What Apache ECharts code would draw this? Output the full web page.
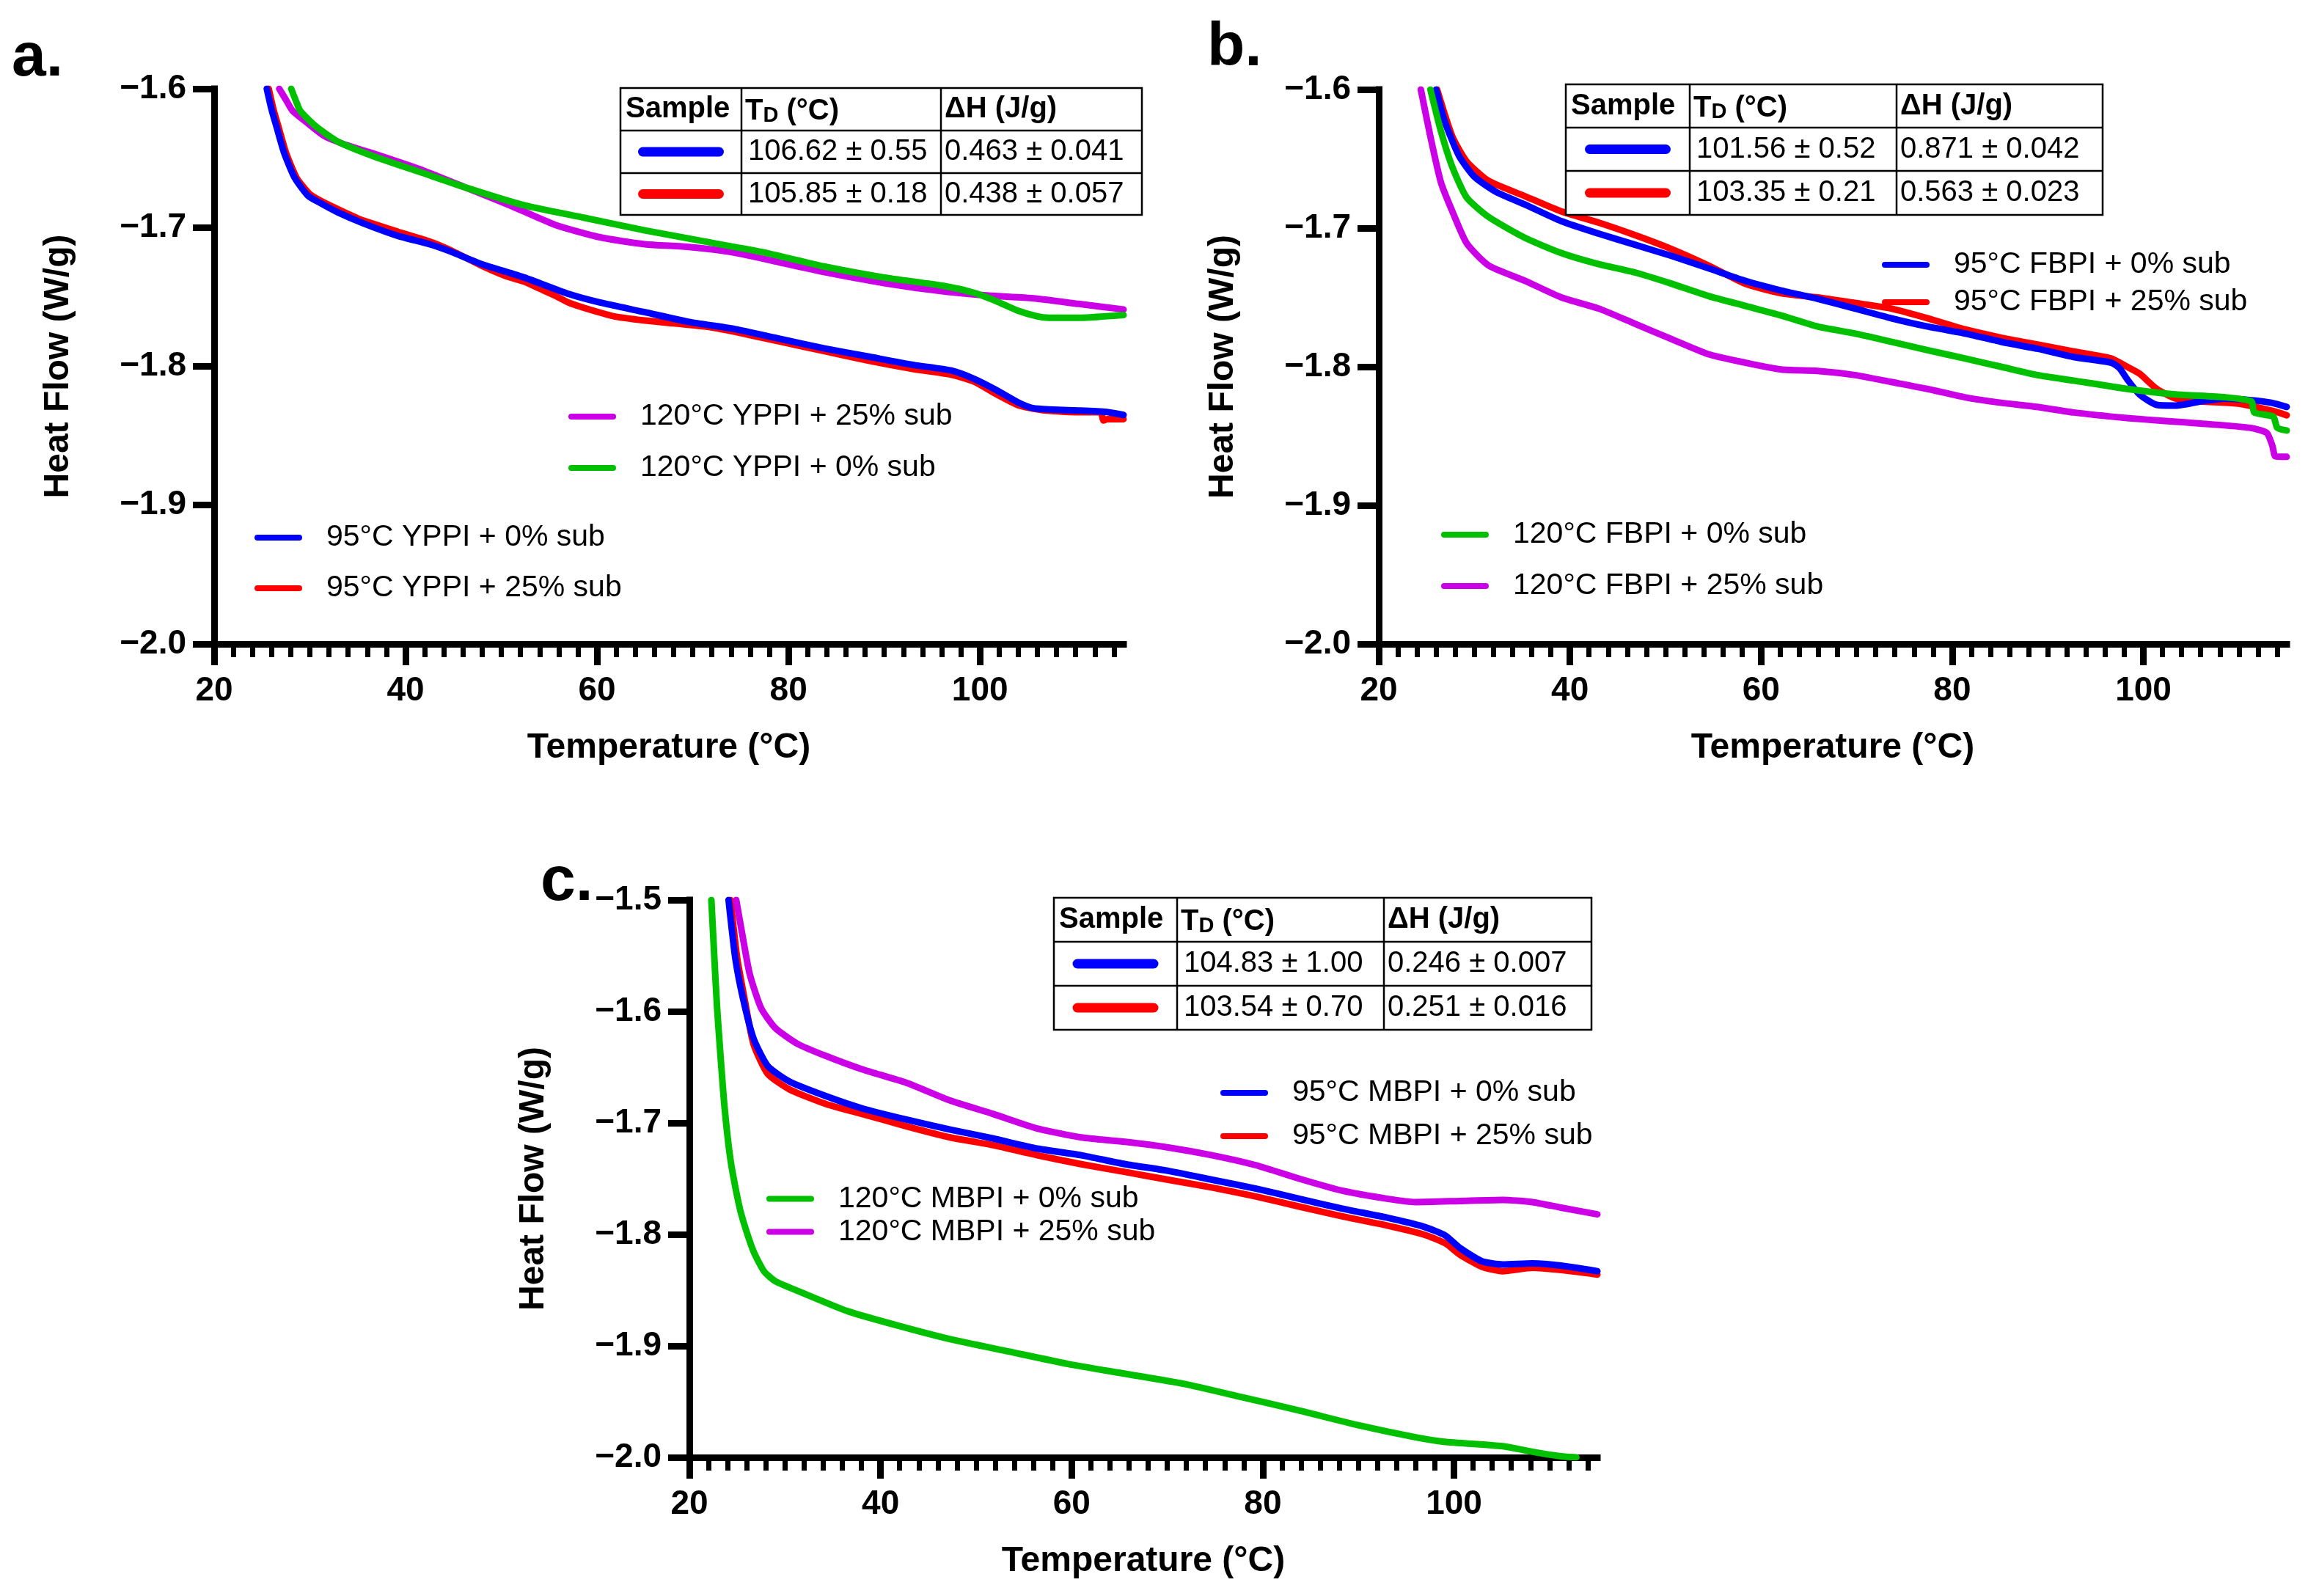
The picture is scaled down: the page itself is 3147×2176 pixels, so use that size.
<!DOCTYPE html>
<html>
<head>
<meta charset="utf-8">
<script src="https://cdn.jsdelivr.net/npm/echarts@6/dist/echarts.min.js"></script>
<style>
html,body{margin:0;padding:0;background:#fff;}
#chart{width:3147px;height:2176px;}
</style>
</head>
<body>
<div id="chart"></div>
<script>
// ---------------- DATA ----------------
const xTicks = [20, 40, 60, 80, 100];
const xMinorTicks = [22,24,26,28,30,32,34,36,38,42,44,46,48,50,52,54,56,58,62,64,66,68,70,72,74,76,78,82,84,86,88,90,92,94,96,98,102,104,106,108,110,112,114];

// Panel a (YPPI)
const a95_0 = [[25.5,-1.600],[26.0,-1.615],[26.5,-1.627],[27.3,-1.646],[28.4,-1.664],[29.8,-1.677],[31.0,-1.682],[32.9,-1.689],[35.6,-1.697],[39.2,-1.706],[42.5,-1.712],[44.6,-1.717],[47.8,-1.726],[52.4,-1.736],[57.1,-1.748],[60.3,-1.754],[65,-1.761],[69.6,-1.768],[74.3,-1.773],[79,-1.780],[83.7,-1.787],[88.4,-1.793],[93.1,-1.799],[97,-1.803],[99.4,-1.809],[101.7,-1.817],[104,-1.826],[105.5,-1.830],[107.2,-1.831],[111,-1.832],[113.4,-1.833],[115,-1.835]];
const a95_25 = [[25.7,-1.600],[26.2,-1.615],[26.7,-1.627],[27.5,-1.646],[28.6,-1.664],[30.0,-1.676],[31.2,-1.681],[33,-1.687],[35.6,-1.695],[39.2,-1.703],[42.5,-1.710],[44.6,-1.716],[47.8,-1.727],[50.5,-1.735],[52.4,-1.739],[54,-1.744],[55.6,-1.749],[57,-1.754],[58.7,-1.758],[61.8,-1.764],[65,-1.767],[68,-1.769],[72,-1.772],[74.3,-1.775],[79,-1.782],[83.7,-1.789],[88.4,-1.796],[93.1,-1.802],[97,-1.806],[99.4,-1.811],[101.7,-1.820],[104,-1.828],[106,-1.831],[107.2,-1.832],[110,-1.833],[112.6,-1.833],[112.9,-1.839],[113.3,-1.838],[115,-1.838]];
const a120_0 = [[28.05,-1.600],[28.5,-1.608],[29,-1.616],[30.6,-1.627],[32.9,-1.638],[36.8,-1.649],[41.5,-1.660],[46.2,-1.671],[52.4,-1.684],[58.7,-1.693],[65,-1.702],[71.2,-1.710],[77.5,-1.718],[83.7,-1.728],[90,-1.736],[96.2,-1.742],[99.4,-1.747],[101.7,-1.753],[104,-1.760],[106,-1.764],[107.2,-1.765],[110.3,-1.765],[113,-1.764],[115,-1.763]];
const a120_25 = [[26.8,-1.600],[27.5,-1.608],[28.2,-1.616],[29.8,-1.625],[31.5,-1.634],[34,-1.641],[36.8,-1.647],[41.5,-1.658],[46.2,-1.671],[50.9,-1.684],[55.6,-1.698],[60.3,-1.707],[65,-1.712],[69.6,-1.714],[74.3,-1.718],[79,-1.725],[83.7,-1.732],[90,-1.740],[96.2,-1.746],[100.9,-1.749],[105.6,-1.751],[110.3,-1.755],[115,-1.759]];

// Panel b (FBPI)
const b95_0 = [[26.0,-1.600],[26.9,-1.623],[28.4,-1.648],[30,-1.663],[32.3,-1.674],[35.3,-1.683],[39.1,-1.695],[43,-1.704],[46.8,-1.712],[50.6,-1.720],[54.5,-1.729],[58.3,-1.738],[62.1,-1.745],[65.9,-1.751],[69.8,-1.758],[73.6,-1.765],[77.4,-1.771],[81.3,-1.776],[85.1,-1.782],[88.9,-1.787],[92.7,-1.793],[96.6,-1.797],[97.5,-1.801],[98.3,-1.809],[99.6,-1.820],[101.4,-1.8275],[103.4,-1.828],[106,-1.825],[108.5,-1.823],[111.1,-1.824],[113.4,-1.826],[115,-1.829]];
const b95_25 = [[26.1,-1.600],[27.7,-1.634],[29.2,-1.652],[31.5,-1.666],[35.3,-1.677],[39.1,-1.688],[43,-1.696],[46.8,-1.705],[50.6,-1.715],[54.5,-1.727],[58.3,-1.740],[62.1,-1.747],[65.9,-1.750],[69.8,-1.754],[73.6,-1.758],[77.4,-1.765],[81.3,-1.773],[85.1,-1.779],[88.9,-1.784],[92.7,-1.789],[96.6,-1.794],[98.3,-1.800],[99.6,-1.805],[101.4,-1.816],[103.4,-1.823],[106,-1.825],[109.8,-1.8265],[113.6,-1.832],[115,-1.835]];
const b120_0 = [[25.4,-1.600],[26.5,-1.630],[27.7,-1.656],[29.2,-1.678],[31.5,-1.692],[35.3,-1.707],[39.1,-1.718],[43,-1.726],[46.8,-1.732],[50.6,-1.740],[54.5,-1.749],[58.3,-1.756],[62.1,-1.763],[65.9,-1.771],[69.8,-1.776],[73.6,-1.782],[77.4,-1.788],[81.3,-1.794],[85.1,-1.800],[88.9,-1.806],[92.7,-1.810],[98.3,-1.816],[103.4,-1.820],[108.5,-1.822],[111.3,-1.825],[111.6,-1.833],[113.6,-1.836],[114,-1.844],[115,-1.846]];
const b120_25 = [[24.4,-1.600],[25.4,-1.634],[26.5,-1.667],[27.7,-1.688],[29.2,-1.711],[31.5,-1.727],[35.3,-1.738],[39.1,-1.750],[43,-1.758],[46.8,-1.769],[50.6,-1.780],[54.5,-1.791],[58.3,-1.797],[62.1,-1.802],[65.9,-1.803],[69.8,-1.806],[73.6,-1.811],[77.4,-1.816],[81.3,-1.822],[85.1,-1.826],[88.9,-1.829],[92.7,-1.833],[98.3,-1.837],[102,-1.839],[106,-1.841],[111.1,-1.844],[112.9,-1.8476],[113.5,-1.857],[113.8,-1.8646],[115,-1.865]];

// Panel c (MBPI)
const c95_0 = [[24.1,-1.500],[24.8,-1.552],[25.6,-1.588],[26.7,-1.624],[28.2,-1.649],[30.5,-1.663],[34.3,-1.676],[38.1,-1.687],[42.7,-1.697],[47.3,-1.706],[51.8,-1.714],[56.4,-1.723],[61,-1.729],[65.6,-1.737],[70.1,-1.743],[74.7,-1.751],[79.3,-1.759],[83.8,-1.768],[88.4,-1.777],[93,-1.785],[96.8,-1.793],[99.1,-1.801],[100.6,-1.812],[102.9,-1.824],[105.1,-1.827],[108.2,-1.826],[111.2,-1.828],[115,-1.833]];
const c95_25 = [[24.3,-1.500],[25,-1.552],[25.8,-1.590],[26.7,-1.629],[28.2,-1.656],[30.5,-1.670],[34.3,-1.683],[38.1,-1.692],[42.7,-1.703],[47.3,-1.713],[51.8,-1.720],[56.4,-1.729],[61,-1.737],[65.6,-1.744],[70.1,-1.751],[74.7,-1.758],[79.3,-1.766],[83.8,-1.775],[88.4,-1.784],[93,-1.792],[96.8,-1.800],[99.1,-1.808],[100.6,-1.818],[102.9,-1.829],[105.1,-1.833],[108.2,-1.830],[111.2,-1.832],[115,-1.836]];
const c120_0 = [[22.3,-1.500],[22.6,-1.550],[22.9,-1.597],[23.3,-1.645],[23.7,-1.688],[24.3,-1.733],[25.1,-1.770],[25.6,-1.787],[26.7,-1.815],[27.8,-1.833],[29,-1.842],[32,-1.853],[36.6,-1.869],[41.9,-1.882],[47.3,-1.894],[53.4,-1.905],[59.5,-1.916],[65.6,-1.925],[71.7,-1.934],[77.8,-1.946],[83.8,-1.958],[89.9,-1.971],[96,-1.982],[99,-1.986],[105.1,-1.990],[108.2,-1.995],[111.2,-1.999],[112.8,-2.000]];
const c120_25 = [[24.9,-1.500],[25.6,-1.534],[26.3,-1.566],[27.5,-1.597],[29,-1.615],[31.3,-1.629],[34.3,-1.640],[38.1,-1.652],[42.7,-1.664],[47.3,-1.680],[51.8,-1.692],[56.4,-1.705],[61,-1.713],[65.6,-1.717],[70.1,-1.722],[74.7,-1.729],[79.3,-1.738],[83.8,-1.750],[88.4,-1.761],[93,-1.768],[96,-1.771],[100.6,-1.770],[105.1,-1.769],[108.2,-1.771],[111.2,-1.776],[115,-1.782]];

// Tables
const tableHeader = ['Sample', 'TD (°C)', 'ΔH (J/g)'];
const tableA = [['106.62 ± 0.55', '0.463 ± 0.041'], ['105.85 ± 0.18', '0.438 ± 0.057']];
const tableB = [['101.56 ± 0.52', '0.871 ± 0.042'], ['103.35 ± 0.21', '0.563 ± 0.023']];
const tableC = [['104.83 ± 1.00', '0.246 ± 0.007'], ['103.54 ± 0.70', '0.251 ± 0.016']];

// ---------------- STYLE ----------------
const FONT = 'Liberation Sans, Arial, Helvetica, sans-serif';
const BLUE = '#0000ff', RED = '#ff0000', GREEN = '#00c000', MAGENTA = '#cc00e6';

const chart = echarts.init(document.getElementById('chart'), null, {renderer: 'canvas'});

const grids = [
  {left: 292, top: 121, width: 1240, height: 757},
  {left: 1880, top: 122, width: 1238, height: 756},
  {left: 940, top: 1227, width: 1238, height: 760}
];
const yRanges = [[-2.0, -1.6], [-2.0, -1.6], [-2.0, -1.5]];

const xAxes = [], yAxes = [];
grids.forEach((g, i) => {
  xAxes.push({
    type: 'value', gridIndex: i, min: 20, max: 115, position: 'bottom',
    axisLine: {show: true, onZero: false, lineStyle: {color: '#000', width: 9, cap: 'square'}},
    axisTick: {show: true, inside: false, length: 29, customValues: xTicks, lineStyle: {color: '#000', width: 9}},
    axisLabel: {show: true, customValues: xTicks, margin: 41, color: '#000', fontSize: 46, fontWeight: 'bold', fontFamily: FONT},
    splitLine: {show: false},
    name: 'Temperature (°C)', nameLocation: 'middle', nameGap: 118,
    nameTextStyle: {color: '#000', fontSize: 48, fontWeight: 'bold', fontFamily: FONT}
  });
  xAxes.push({
    type: 'value', gridIndex: i, min: 20, max: 115, position: 'bottom',
    axisLine: {show: false, onZero: false},
    axisTick: {show: true, inside: false, length: 18, customValues: xMinorTicks, lineStyle: {color: '#000', width: 7}},
    axisLabel: {show: false},
    splitLine: {show: false}
  });
  yAxes.push({
    type: 'value', gridIndex: i, min: yRanges[i][0], max: yRanges[i][1], interval: 0.1, position: 'left',
    axisLine: {show: true, onZero: false, lineStyle: {color: '#000', width: 9, cap: 'square'}},
    axisTick: {show: true, inside: false, length: 29, lineStyle: {color: '#000', width: 9}},
    axisLabel: {margin: 38, color: '#000', fontSize: 46, fontWeight: 'bold', fontFamily: FONT,
      formatter: v => (v < 0 ? '\u2212' : '') + Math.abs(v).toFixed(1)},
    splitLine: {show: false},
    name: 'Heat Flow (W/g)', nameLocation: 'middle', nameGap: 188, nameRotate: 90,
    nameTextStyle: {color: '#000', fontSize: 48, fontWeight: 'bold', fontFamily: FONT}
  });
});

function line(name, data, color, gi) {
  return {
    name, type: 'line', data, xAxisIndex: gi * 2, yAxisIndex: gi,
    color, showSymbol: false, symbol: 'none', smooth: 0.2,
    lineStyle: {color, width: 9, join: 'round', cap: 'round'}, itemStyle: {color}, animation: false, clip: true
  };
}

const series = [
  line('95°C YPPI + 25% sub', a95_25, RED, 0),
  line('95°C YPPI + 0% sub', a95_0, BLUE, 0),
  line('120°C YPPI + 25% sub', a120_25, MAGENTA, 0),
  line('120°C YPPI + 0% sub', a120_0, GREEN, 0),
  line('95°C FBPI + 25% sub', b95_25, RED, 1),
  line('95°C FBPI + 0% sub', b95_0, BLUE, 1),
  line('120°C FBPI + 25% sub', b120_25, MAGENTA, 1),
  line('120°C FBPI + 0% sub', b120_0, GREEN, 1),
  line('95°C MBPI + 25% sub', c95_25, RED, 2),
  line('95°C MBPI + 0% sub', c95_0, BLUE, 2),
  line('120°C MBPI + 25% sub', c120_25, MAGENTA, 2),
  line('120°C MBPI + 0% sub', c120_0, GREEN, 2)
];

const PILL = 'path://M4 0L61 0A4 4 0 0 1 61 8L4 8A4 4 0 0 1 4 0Z';
function legend(names, left, top, gap, lh) {
  return {
    data: names, left, top, orient: 'vertical', itemGap: gap, padding: 0,
    itemWidth: 65, itemHeight: 8, icon: PILL, selectedMode: false,
    textStyle: {fontSize: 41, lineHeight: lh || 46, color: '#000', fontFamily: FONT, padding: [0, 0, 0, 28]}
  };
}
const legends = [
  legend(['120°C YPPI + 25% sub', '120°C YPPI + 0% sub'], 775, 545, 24),
  legend(['95°C YPPI + 0% sub', '95°C YPPI + 25% sub'], 347, 710, 23),
  legend(['95°C FBPI + 0% sub', '95°C FBPI + 25% sub'], 2566, 338, 5),
  legend(['120°C FBPI + 0% sub', '120°C FBPI + 25% sub'], 1965, 706, 24),
  legend(['95°C MBPI + 0% sub', '95°C MBPI + 25% sub'], 1664, 1467, 13),
  legend(['120°C MBPI + 0% sub', '120°C MBPI + 25% sub'], 1045, 1612, 0, 45)
];

// ---------------- TABLES (graphic) ----------------
function buildTable(xs, ys, rowsData) {
  const els = [];
  const Z = 50;
  els.push({type: 'rect', z: Z, shape: {x: xs[0], y: ys[0], width: xs[3] - xs[0], height: ys[3] - ys[0]},
    style: {fill: '#fff', stroke: '#000', lineWidth: 2.5}});
  [ys[1], ys[2]].forEach(y => els.push({type: 'line', z: Z + 1, shape: {x1: xs[0], y1: y, x2: xs[3], y2: y}, style: {stroke: '#000', lineWidth: 2.5}}));
  [xs[1], xs[2]].forEach(x => els.push({type: 'line', z: Z + 1, shape: {x1: x, y1: ys[0], x2: x, y2: ys[3]}, style: {stroke: '#000', lineWidth: 2.5}}));
  const mid = r => (ys[r] + ys[r + 1]) / 2;
  const hdr = {fontSize: 40, fontWeight: 'bold', fontFamily: FONT, fill: '#000', verticalAlign: 'middle', align: 'left'};
  els.push({type: 'text', z: Z + 2, style: Object.assign({x: xs[0] + 7, y: mid(0), text: tableHeader[0]}, hdr)});
  els.push({type: 'text', z: Z + 2, style: Object.assign({x: xs[1] + 5, y: mid(0),
    text: '{b|T}{s|D}{b| (°C)}',
    rich: {b: {fontSize: 40, fontWeight: 'bold', fontFamily: FONT, lineHeight: 46, verticalAlign: 'bottom'},
           s: {fontSize: 29, fontWeight: 'bold', fontFamily: FONT, lineHeight: 40, verticalAlign: 'bottom'}}}, hdr)});
  els.push({type: 'text', z: Z + 2, style: Object.assign({x: xs[2] + 5, y: mid(0), text: tableHeader[2]}, hdr)});
  const colors = [BLUE, RED];
  rowsData.forEach((row, r) => {
    const y = mid(r + 1);
    const cx = (xs[0] + xs[1]) / 2;
    els.push({type: 'line', z: Z + 2, shape: {x1: cx - 52, y1: y, x2: cx + 52, y2: y},
      style: {stroke: colors[r], lineWidth: 13, lineCap: 'round'}});
    const st = {fontSize: 40, fontFamily: FONT, fill: '#000', verticalAlign: 'middle', align: 'left'};
    els.push({type: 'text', z: Z + 2, style: Object.assign({x: xs[1] + 9, y, text: row[0]}, st)});
    els.push({type: 'text', z: Z + 2, style: Object.assign({x: xs[2] + 5, y, text: row[1]}, st)});
  });
  return els;
}

const graphics = []
  .concat(buildTable([846, 1011, 1283, 1557], [120, 178, 236, 293], tableA))
  .concat(buildTable([2135, 2304, 2586, 2867], [115, 174, 233, 293], tableB))
  .concat(buildTable([1437, 1605, 1887, 2170], [1224, 1284, 1344, 1404], tableC));

const panelLabel = (t, x, y, fs) => ({type: 'text', z: 60, style: {x, y, text: t, fontSize: fs, fontWeight: 'bold',
  fontFamily: FONT, fill: '#000', verticalAlign: 'middle', align: 'left'}});
graphics.push(panelLabel('a.', 16, 80, 84));
graphics.push(panelLabel('b.', 1646, 66, 84));
graphics.push(panelLabel('c.', 737, 1203, 86));

chart.setOption({
  backgroundColor: '#fff',
  animation: false,
  grid: grids,
  xAxis: xAxes,
  yAxis: yAxes,
  legend: legends,
  series,
  graphic: graphics
});
</script>
</body>
</html>
